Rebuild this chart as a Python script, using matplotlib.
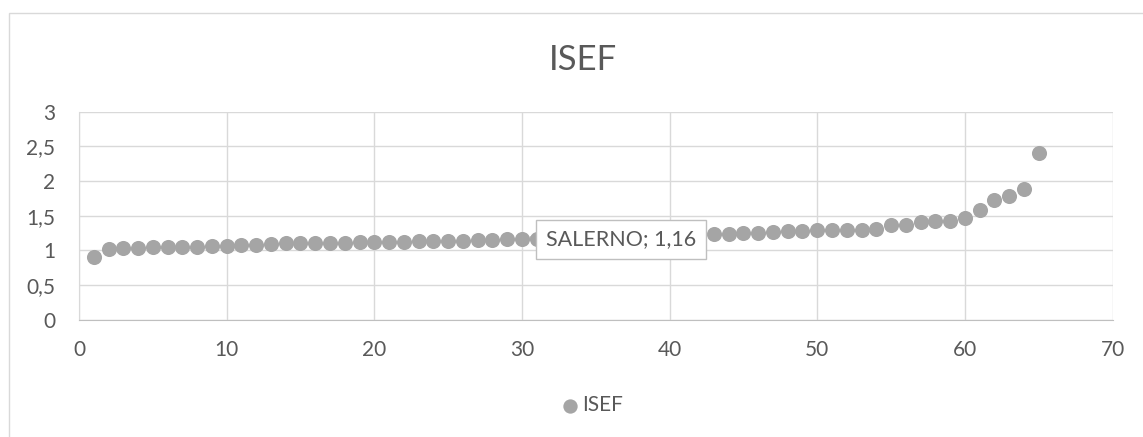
import matplotlib
matplotlib.use("Agg")
import matplotlib.pyplot as plt
from matplotlib.patches import Rectangle
from matplotlib.ticker import FuncFormatter

title = "ISEF"
series_name = "ISEF"
x_values = [1, 2, 3, 4, 5, 6, 7, 8, 9, 10, 11, 12, 13, 14, 15, 16, 17, 18, 19, 20,
            21, 22, 23, 24, 25, 26, 27, 28, 29, 30, 31, 32, 33, 34, 35, 36, 37, 38, 39, 40,
            41, 42, 43, 44, 45, 46, 47, 48, 49, 50, 51, 52, 53, 54, 55, 56, 57, 58, 59, 60,
            61, 62, 63, 64, 65]
y_values = [0.91, 1.02, 1.03, 1.04, 1.05, 1.05, 1.05, 1.05, 1.06, 1.06,
            1.07, 1.08, 1.09, 1.10, 1.10, 1.11, 1.11, 1.11, 1.12, 1.12,
            1.12, 1.12, 1.13, 1.13, 1.14, 1.14, 1.15, 1.15, 1.16, 1.16,
            1.17, 1.17, 1.18, 1.18, 1.19, 1.20, 1.20, 1.21, 1.21, 1.22,
            1.23, 1.23, 1.24, 1.24, 1.25, 1.25, 1.27, 1.28, 1.28, 1.29,
            1.30, 1.30, 1.30, 1.31, 1.36, 1.37, 1.41, 1.43, 1.43, 1.46,
            1.58, 1.73, 1.78, 1.89, 2.41]
label_index = 29
label_name = "SALERNO"
x_ticks = [0, 10, 20, 30, 40, 50, 60, 70]
y_ticks = [0, 0.5, 1, 1.5, 2, 2.5, 3]

FONT = "Lato"
TXT = "#595959"
GRID = "#D9D9D9"
MARK = "#A5A5A5"

plt.rcParams["font.family"] = [FONT, "DejaVu Sans"]

W, H = 1143, 437
fig = plt.figure(figsize=(W / 100, H / 100), dpi=100)
fig.patch.set_facecolor("white")

# outer chart border (only top and left visible)
fig.patches.append(Rectangle((8.5 / W, -0.05), 1.2, 1.05 - 12.5 / H,
                             transform=fig.transFigure, fill=False,
                             edgecolor=GRID, linewidth=1.0))

left, right = 79 / W, 1112.5 / W
bottom, top = 1 - 319.6 / H, 1 - 111.7 / H
ax = fig.add_axes([left, bottom, right - left, top - bottom])

ax.set_xlim(0, 70)
ax.set_ylim(0, 3)
ax.set_xticks(x_ticks)
ax.set_yticks(y_ticks)
fmt = FuncFormatter(lambda v, p: ("%g" % v).replace(".", ","))
ax.xaxis.set_major_formatter(fmt)
ax.yaxis.set_major_formatter(fmt)
ax.grid(True, color=GRID, linewidth=1.0)
ax.set_axisbelow(True)
for s in ["top", "right"]:
    ax.spines[s].set_visible(False)
ax.spines["left"].set_color(GRID)
ax.spines["bottom"].set_color("#BFBFBF")
ax.tick_params(length=0, labelsize=15, colors=TXT)
ax.tick_params(axis="y", pad=17)
ax.tick_params(axis="x", pad=15)

ax.scatter(x_values, y_values, s=118, color=MARK, zorder=3, clip_on=False,
           linewidths=0, label=series_name)

lx, ly = x_values[label_index], y_values[label_index]
ax.annotate(f"{label_name}; " + ("%.2f" % ly).replace(".", ","),
            xy=(lx, ly), xytext=(24, 0), textcoords="offset pixels",
            ha="left", va="center", fontsize=15.5, color=TXT, zorder=5,
            bbox=dict(boxstyle="square,pad=0.45", fc="white", ec="#BFBFBF", lw=1.0),
            arrowprops=dict(arrowstyle="-", color="#A6A6A6", lw=1.0,
                            relpos=(0, 0.8), shrinkA=0, shrinkB=6))

fig.text(582.5 / W, 1 - 60 / H, title, ha="center", va="center",
         fontsize=25, color=TXT)

fig.legend(loc="center", bbox_to_anchor=(590 / W, 1 - 405 / H), frameon=False,
           fontsize=15, labelcolor=TXT, handletextpad=0.0, handlelength=1.2,
           markerscale=0.95, borderpad=0)

fig.savefig("out.png", dpi=100, facecolor="white")
